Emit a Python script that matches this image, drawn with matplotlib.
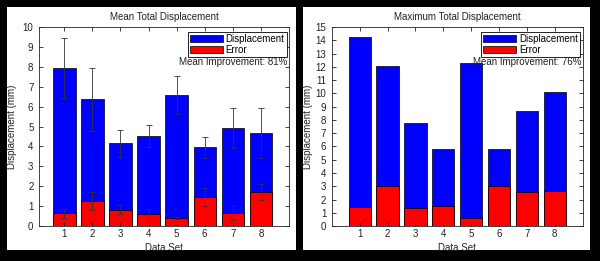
import matplotlib.pyplot as plt
from matplotlib.patches import Rectangle

plt.rcParams['font.family'] = ['Liberation Sans', 'DejaVu Sans']
plt.rcParams['font.size'] = 7

sets = [1, 2, 3, 4, 5, 6, 7, 8]

# mean total displacement (mm)
mean_disp = [7.94, 6.37, 4.15, 4.51, 6.60, 3.97, 4.91, 4.67]
mean_disp_sd = [1.50, 1.60, 0.70, 0.55, 0.96, 0.53, 1.00, 1.25]
mean_err = [0.63, 1.27, 0.83, 0.60, 0.39, 1.47, 0.68, 1.70]
mean_err_sd = [0.25, 0.45, 0.22, 0.25, 0.05, 0.45, 0.37, 0.40]

# maximum total displacement (mm)
max_disp = [14.22, 12.06, 7.76, 5.80, 12.29, 5.80, 8.67, 10.13]
max_err = [1.46, 3.02, 1.36, 1.51, 0.63, 3.02, 2.59, 2.64]

fig = plt.figure(figsize=(6.0, 2.61), dpi=100, facecolor='black')

# white panels behind each plot
fig.patches.append(Rectangle((0.0117, 0.042), 0.4817, 0.931, transform=fig.transFigure,
                             facecolor='white', edgecolor='none', zorder=-1))
fig.patches.append(Rectangle((0.505, 0.042), 0.478, 0.931, transform=fig.transFigure,
                             facecolor='white', edgecolor='none', zorder=-1))

ax1 = fig.add_axes([0.065, 0.134, 0.4167, 0.762])
ax2 = fig.add_axes([0.553, 0.134, 0.418, 0.762])


def style(ax, ymax, xmin, ylab_x):
    ax.set_xlim(xmin, 9)
    ax.set_ylim(0, ymax)
    ax.set_xticks(sets)
    ax.set_yticks(range(0, ymax + 1))
    ax.tick_params(direction='in', length=3, width=0.6, top=True, right=True,
                   labelsize=7, colors='#222222', pad=4)
    ax.tick_params(axis='x', pad=2.5)
    for s in ax.spines.values():
        s.set_linewidth(0.6)
        s.set_color('#222222')
    ax.set_xlabel('Data Set', fontsize=7, color='#222222')
    ax.set_ylabel('Displacement (mm)', fontsize=7, color='#222222')
    ax.xaxis.set_label_coords(0.5, -0.085)
    ax.yaxis.set_label_coords(ylab_x, 0.5)


def add_legend(ax, text):
    leg = ax.legend(loc='upper right', bbox_to_anchor=(0.99, 0.975), fontsize=7,
                    handlelength=3.4, handleheight=0.8, fancybox=False, framealpha=1,
                    borderpad=0.2, labelspacing=0.1, handletextpad=0.3, borderaxespad=0)
    leg.get_frame().set_edgecolor('black')
    leg.get_frame().set_linewidth(0.6)
    ax.text(0.995, 0.825, text, transform=ax.transAxes, ha='right', va='center',
            fontsize=7, color='#222222', zorder=10)


# left: mean
ax1.bar(sets, mean_disp, width=0.8, color='#0000ff', edgecolor='black', linewidth=0.5,
        label='Displacement')
ax1.bar(sets, mean_err, width=0.8, color='#ff0000', edgecolor='black', linewidth=0.5,
        label='Error')
ax1.errorbar(sets, mean_disp, yerr=mean_disp_sd, fmt='none', ecolor='#333333',
             elinewidth=0.6, capsize=2, capthick=0.6)
ax1.errorbar(sets, mean_err, yerr=mean_err_sd, fmt='none', ecolor='#333333',
             elinewidth=0.6, capsize=2, capthick=0.6)
style(ax1, 10, 0.1, -0.088)
ax1.set_title('Mean Total Displacement', fontsize=7, pad=5, color='#222222')
add_legend(ax1, 'Mean Improvement: 81%')

# right: maximum
ax2.bar(sets, max_disp, width=0.8, color='#0000ff', edgecolor='black', linewidth=0.5,
        label='Displacement')
ax2.bar(sets, max_err, width=0.8, color='#ff0000', edgecolor='black', linewidth=0.5,
        label='Error')
style(ax2, 15, 0, -0.076)
ax2.set_title('Maximum Total Displacement', fontsize=7, pad=5, color='#222222')
add_legend(ax2, 'Mean Improvement: 76%')

fig.savefig('out.png', dpi=100, facecolor='black')
